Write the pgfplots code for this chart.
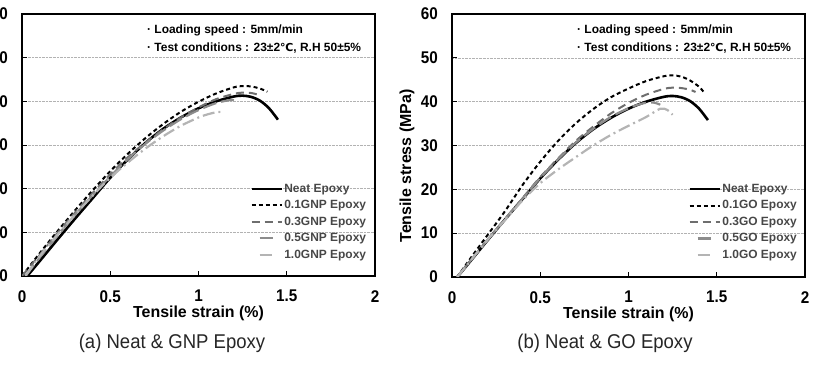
\documentclass[border=0pt]{standalone}
\usepackage{pgfplots}
\pgfplotsset{compat=1.18}
\usepackage{fontspec}
\setmainfont{Liberation Sans}
\newfontfamily\tickfont[FakeStretch=0.9]{Liberation Sans}
\newfontfamily\capfont[FakeStretch=0.93]{Liberation Sans}
\newfontfamily\symfont{DejaVu Sans}
\definecolor{cNeat}{HTML}{000000}
\definecolor{cA}{HTML}{000000}
\definecolor{cB}{HTML}{6E6E6E}
\definecolor{cC}{HTML}{8C8C8C}
\definecolor{cD}{HTML}{B4B4B4}
\pgfplotsset{
  panel/.style={
    scale only axis, width=353bp,
    xmin=0, xmax=2, ymin=0, ymax=60,
    xtick={0,0.5,1,1.5,2}, xticklabels={0,0.5,1,1.5,2},
    ytick={0,10,20,30,40,50,60}, yticklabels={0,10,20,30,40,50,60},
    xtick pos=bottom, ytick pos=left,
    tick align=inside, major tick length=5bp,
    tick style={black, line width=0.8bp},
    axis line style={line width=1.8bp},
    ymajorgrids, grid style={densely dotted, black!30, line width=0.5bp},
    /pgf/number format/assume math mode=true,
    ticklabel style={font=\tickfont\bfseries\fontsize{17}{17}\selectfont, inner sep=0pt},
    yticklabel style={xshift=-14bp},
    xticklabel style={yshift=-14bp},
    xlabel={Tensile strain (\%)},
    xlabel style={font=\bfseries\fontsize{16}{16}\selectfont, at={(axis description cs:0.5,0)}, anchor=center, yshift=-37bp},
    ylabel={Tensile stress (MPa)},
    ylabel style={font=\bfseries\fontsize{16}{16}\selectfont, at={(axis description cs:0,0.422)}, anchor=center, yshift=45bp},
    legend cell align=left,
    legend style={draw=none, fill=none, anchor=north west, inner sep=0pt,
      row sep=3.6bp,
      nodes={inner sep=1.5bp, font=\bfseries\fontsize{12}{12}\selectfont, text=black!72}},
    legend image code/.code={\draw[#1] (0bp,0bp) -- (30bp,0bp);},
  },
  sNeat/.style={cNeat, line width=2.6bp, smooth},
  sA/.style={cA, line width=2bp, dash pattern=on 4bp off 3bp, smooth},
  sB/.style={cB, line width=2bp, dash pattern=on 8bp off 5bp, smooth},
  sC/.style={cC, line width=2.2bp, dash pattern=on 14bp off 5bp, smooth,
    legend image code/.code={\draw[cC, line width=2.2bp] (8bp,0bp) -- (21bp,0bp);}},
  sD/.style={cD, line width=2.2bp, dash pattern=on 12bp off 4bp on 2bp off 4bp, smooth,
    legend image code/.code={\draw[cD, line width=2.2bp] (8bp,0bp) -- (21bp,0bp);}},
}
\newcommand{\annot}{%
  \node[anchor=west, inner sep=0pt, font=\bfseries\fontsize{12}{12}\selectfont] at (axis description cs:0.354,0.939) {· Loading speed : 5mm/min};
  \node[anchor=west, inner sep=0pt, font=\bfseries\fontsize{12}{12}\selectfont] at (axis description cs:0.354,0.871) {· Test conditions : 23±2{\symfont\fontsize{11}{11}\selectfont ℃}, R.H 50±5\%};
}
\begin{document}
\begin{tikzpicture}
\path[use as bounding box] (0bp,0bp) rectangle (819bp,365bp);
% ---------- (a) GNP ----------
\begin{axis}[panel, height=262bp, at={(22bp,89bp)}, anchor=south west,
  legend style={at={(axis description cs:0.646,0.357)}}]
\addplot[sNeat] coordinates {(0.03,0) (0.1,3.4) (0.2,8.3) (0.3,13.1) (0.4,17.8) (0.5,22.5) (0.6,26.7) (0.7,30.5) (0.8,33.7) (0.9,36.3) (1.0,38.4) (1.1,40.0) (1.2,41.1) (1.25,41.3) (1.3,41.0) (1.35,40.1) (1.4,38.4) (1.45,35.8)};
\addlegendentry{Neat Epoxy}
\addplot[sA] coordinates {(0,0) (0.1,5.2) (0.2,10.2) (0.3,15.0) (0.4,19.6) (0.5,24.0) (0.6,28.0) (0.7,31.6) (0.8,34.8) (0.9,37.6) (1.0,39.9) (1.1,41.8) (1.2,43.2) (1.25,43.5) (1.3,43.4) (1.35,42.9) (1.39,42.2)};
\addlegendentry{0.1GNP Epoxy}
\addplot[sB] coordinates {(0,0) (0.1,4.8) (0.2,9.8) (0.3,14.5) (0.4,19.0) (0.5,23.3) (0.6,27.2) (0.7,30.6) (0.8,33.6) (0.9,36.3) (1.0,38.6) (1.1,40.5) (1.2,41.7) (1.25,42.0) (1.3,41.9) (1.33,41.6)};
\addlegendentry{0.3GNP Epoxy}
\addplot[sC] coordinates {(0.02,0) (0.1,4.2) (0.2,9.2) (0.3,14.0) (0.4,18.5) (0.5,22.8) (0.6,26.8) (0.7,30.3) (0.8,33.3) (0.9,35.9) (1.0,38.0) (1.1,39.6) (1.18,40.3) (1.2,40.2)};
\addlegendentry{0.5GNP Epoxy}
\addplot[sD] coordinates {(0.02,0) (0.1,4.5) (0.2,9.4) (0.3,14.0) (0.4,18.4) (0.5,22.5) (0.6,26.0) (0.7,29.2) (0.8,32.0) (0.9,34.4) (1.0,36.3) (1.05,37.0) (1.1,37.5) (1.13,37.6)};
\addlegendentry{1.0GNP Epoxy}
\annot
\end{axis}
% ---------- (b) GO ----------
\begin{axis}[panel, height=263bp, at={(452bp,88bp)}, anchor=south west,
  legend style={at={(axis description cs:0.669,0.359)}}]
\addplot[sNeat] coordinates {(0.03,0) (0.1,3.4) (0.2,8.3) (0.3,13.1) (0.4,17.8) (0.5,22.5) (0.6,26.7) (0.7,30.5) (0.8,33.7) (0.9,36.3) (1.0,38.4) (1.1,40.0) (1.2,41.1) (1.25,41.3) (1.3,41.0) (1.35,40.1) (1.4,38.4) (1.45,35.8)};
\addlegendentry{Neat Epoxy}
\addplot[sA] coordinates {(0.03,0) (0.1,4.0) (0.2,9.5) (0.3,15.0) (0.4,21.0) (0.5,26.3) (0.6,31.0) (0.7,35.0) (0.8,38.3) (0.9,41.0) (1.0,43.0) (1.1,44.7) (1.2,45.8) (1.25,46.0) (1.3,45.7) (1.35,44.8) (1.4,43.4) (1.43,42.0)};
\addlegendentry{0.1GO Epoxy}
\addplot[sB] coordinates {(0.03,0) (0.1,3.5) (0.2,8.4) (0.3,13.2) (0.4,18.0) (0.5,22.8) (0.6,27.0) (0.7,31.0) (0.8,34.3) (0.9,37.3) (1.0,39.7) (1.1,41.6) (1.2,42.9) (1.25,43.2) (1.3,43.1) (1.35,42.7) (1.38,42.2)};
\addlegendentry{0.3GO Epoxy}
\addplot[sC] coordinates {(0.03,0) (0.1,3.5) (0.2,8.4) (0.3,13.2) (0.4,17.9) (0.5,22.6) (0.6,26.8) (0.7,30.6) (0.8,33.8) (0.9,36.5) (1.0,38.5) (1.08,39.6) (1.14,39.8) (1.18,39.3)};
\addlegendentry{0.5GO Epoxy}
\addplot[sD] coordinates {(0.03,0) (0.1,3.5) (0.2,8.4) (0.3,13.0) (0.4,17.5) (0.5,21.4) (0.6,24.5) (0.7,27.3) (0.8,30.0) (0.9,32.4) (1.0,34.5) (1.1,36.5) (1.18,38.4) (1.22,38.1) (1.25,37.0)};
\addlegendentry{1.0GO Epoxy}
\annot
\end{axis}
% captions
\node[font=\capfont\fontsize{20}{20}\selectfont, text=black!85] at (172bp,22bp) {(a) Neat \& GNP Epoxy};
\node[font=\capfont\fontsize{20}{20}\selectfont, text=black!85] at (605bp,22bp) {(b) Neat \& GO Epoxy};
\end{tikzpicture}
\end{document}
